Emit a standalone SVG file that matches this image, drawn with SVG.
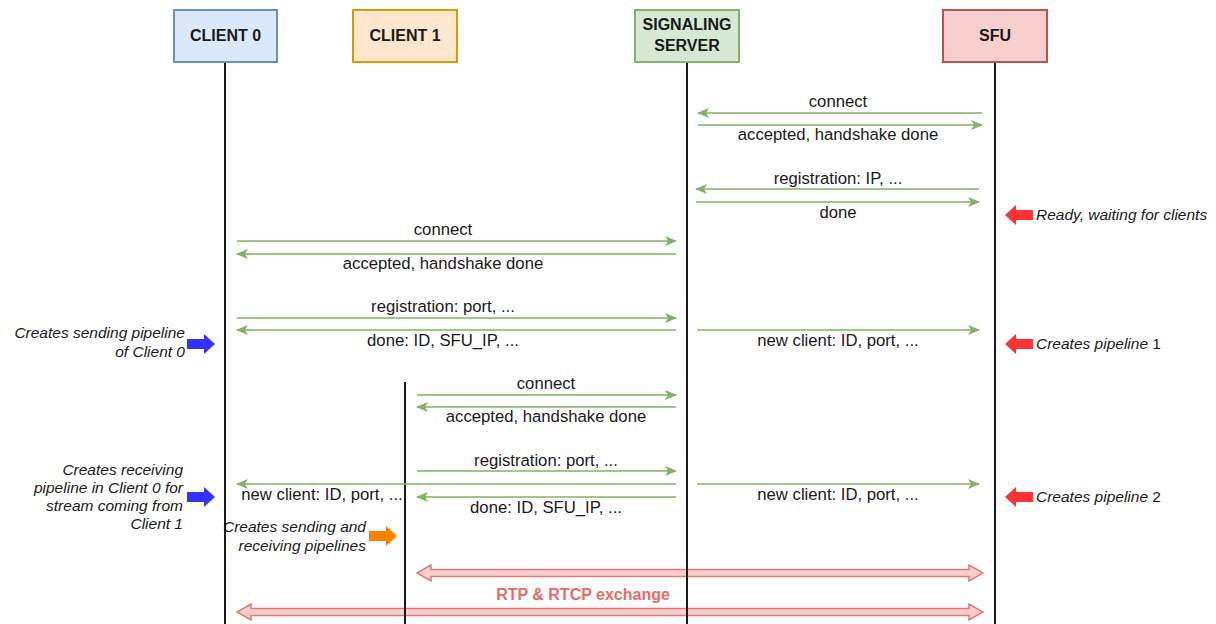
<svg xmlns="http://www.w3.org/2000/svg" width="1216" height="624" viewBox="0 0 1216 624">
  <style>
    .box { stroke-width: 2; }
    .title { font-family: "Liberation Sans", Arial, sans-serif; font-size: 16px; font-weight: bold; fill: #1a1a1a; text-anchor: middle; }
    .life { stroke: #1a1a1a; stroke-width: 2; fill: none; }
    .msg { stroke: #82b366; stroke-width: 1.5; fill: none; marker-end: url(#head); }
    .lbl { font-family: "Liberation Sans", Arial, sans-serif; font-size: 16.7px; fill: #1a1a1a; text-anchor: middle; }
    .note { font-family: "Liberation Sans", Arial, sans-serif; font-size: 15.5px; font-style: italic; fill: #1a1a1a; }
    .rtp { fill: #f8cecc; stroke: #e07a77; stroke-width: 1.5; }
    .rtplbl { font-family: "Liberation Sans", Arial, sans-serif; font-size: 16px; font-weight: bold; fill: #ea6b66; text-anchor: middle; }
  </style>
  <defs>
    <marker id="head" viewBox="0 0 12 10" refX="11" refY="5" markerWidth="12" markerHeight="10" markerUnits="userSpaceOnUse" orient="auto">
      <path d="M0,0 L12,5 L0,10 L3,5 Z" fill="#82b366"/>
    </marker>
    <!-- fat block arrow pointing right, origin at tail centre -->
    <path id="block" d="M0,-5 L17,-5 L17,-10 L28,0 L17,10 L17,5 L0,5 Z"/>
  </defs>

  <rect width="1216" height="624" fill="#ffffff"/>

  <!-- RTP / RTCP exchange (behind lifelines) -->
  <g id="rtp">
    <path class="rtp" d="M417,573 L431,565 L431,569.5 L969,569.5 L969,565 L983,573 L969,581 L969,576.5 L431,576.5 L431,581 Z"/>
    <path class="rtp" d="M237,612 L251,604 L251,608.5 L969,608.5 L969,604 L983,612 L969,620 L969,615.5 L251,615.5 L251,620 Z"/>
    <text class="rtplbl" x="583" y="600">RTP &amp; RTCP exchange</text>
  </g>

  <!-- lifelines -->
  <g id="lifelines">
    <line class="life" x1="225" y1="62" x2="225" y2="624"/>
    <line class="life" x1="405" y1="382" x2="405" y2="624"/>
    <line class="life" x1="687" y1="62" x2="687" y2="624"/>
    <line class="life" x1="995" y1="62" x2="995" y2="624"/>
  </g>

  <g id="client0">
    <rect class="box" x="174" y="10" width="103" height="52" fill="#dae8fc" stroke="#6c8ebf"/>
    <text class="title" x="225.5" y="41">CLIENT 0</text>
  </g>
  <g id="client1">
    <rect class="box" x="353" y="10" width="104" height="52" fill="#ffe6cc" stroke="#d79b00"/>
    <text class="title" x="405" y="41">CLIENT 1</text>
  </g>
  <g id="signaling">
    <rect class="box" x="635" y="10" width="104" height="52" fill="#d5e8d4" stroke="#82b366"/>
    <text class="title" x="687" y="30">SIGNALING</text>
    <text class="title" x="687" y="51">SERVER</text>
  </g>
  <g id="sfu">
    <rect class="box" x="943" y="10" width="104" height="52" fill="#f8cecc" stroke="#b85450"/>
    <text class="title" x="995" y="41">SFU</text>
  </g>

  <!-- messages -->
  <g id="connectors">
    <line class="msg" x1="982" y1="113" x2="698" y2="113"/>
    <line class="msg" x1="698" y1="125" x2="982" y2="125"/>
    <line class="msg" x1="979" y1="189" x2="696" y2="189"/>
    <line class="msg" x1="696" y1="202" x2="979" y2="202"/>

    <line class="msg" x1="237" y1="241" x2="676" y2="241"/>
    <line class="msg" x1="676" y1="254" x2="237" y2="254"/>
    <line class="msg" x1="237" y1="318" x2="676" y2="318"/>
    <line class="msg" x1="676" y1="330" x2="237" y2="330"/>
    <line class="msg" x1="697" y1="330" x2="979" y2="330"/>

    <line class="msg" x1="417" y1="395" x2="676" y2="395"/>
    <line class="msg" x1="676" y1="407" x2="417" y2="407"/>
    <line class="msg" x1="417" y1="471" x2="676" y2="471"/>
    <line class="msg" x1="676" y1="484" x2="237" y2="484"/>
    <line class="msg" x1="676" y1="497" x2="417" y2="497"/>
    <line class="msg" x1="697" y1="484" x2="979" y2="484"/>
  </g>

  <g id="labels">
    <text class="lbl" x="838" y="107">connect</text>
    <text class="lbl" x="838" y="140">accepted, handshake done</text>
    <text class="lbl" x="838" y="184">registration: IP, ...</text>
    <text class="lbl" x="838" y="218">done</text>

    <text class="lbl" x="443" y="235">connect</text>
    <text class="lbl" x="443" y="269">accepted, handshake done</text>
    <text class="lbl" x="443" y="312">registration: port, ...</text>
    <text class="lbl" x="443" y="346">done: ID, SFU_IP, ...</text>
    <text class="lbl" x="838" y="346">new client: ID, port, ...</text>

    <text class="lbl" x="546" y="389">connect</text>
    <text class="lbl" x="546" y="422">accepted, handshake done</text>
    <text class="lbl" x="546" y="466">registration: port, ...</text>
    <text class="lbl" x="322" y="500">new client: ID, port, ...</text>
    <text class="lbl" x="546" y="513">done: ID, SFU_IP, ...</text>
    <text class="lbl" x="838" y="500">new client: ID, port, ...</text>
  </g>

  <!-- annotations -->
  <g id="note-ready">
    <use href="#block" transform="translate(1033,215) scale(-1,1)" fill="#ff3333"/>
    <text class="note" x="1036" y="220">Ready, waiting for clients</text>
  </g>
  <g id="note-pipeline1">
    <use href="#block" transform="translate(1033,344) scale(-1,1)" fill="#ff3333"/>
    <text class="note" x="1036" y="349">Creates pipeline <tspan font-style="normal">1</tspan></text>
  </g>
  <g id="note-pipeline2">
    <use href="#block" transform="translate(1033,497) scale(-1,1)" fill="#ff3333"/>
    <text class="note" x="1036" y="502">Creates pipeline <tspan font-style="normal">2</tspan></text>
  </g>
  <g id="note-client0-send">
    <use href="#block" transform="translate(187,344)" fill="#3333ff"/>
    <text class="note" text-anchor="end" x="185" y="338">Creates sending pipeline</text>
    <text class="note" text-anchor="end" x="185" y="357">of Client 0</text>
  </g>
  <g id="note-client0-recv">
    <use href="#block" transform="translate(187,497)" fill="#3333ff"/>
    <text class="note" text-anchor="end" x="183" y="475">Creates receiving</text>
    <text class="note" text-anchor="end" x="183" y="493">pipeline in Client 0 for</text>
    <text class="note" text-anchor="end" x="183" y="511">stream coming from</text>
    <text class="note" text-anchor="end" x="183" y="529">Client 1</text>
  </g>
  <g id="note-client1">
    <use href="#block" transform="translate(369,536)" fill="#ff8000"/>
    <text class="note" text-anchor="end" x="366" y="532">Creates sending and</text>
    <text class="note" text-anchor="end" x="366" y="551">receiving pipelines</text>
  </g>
</svg>
